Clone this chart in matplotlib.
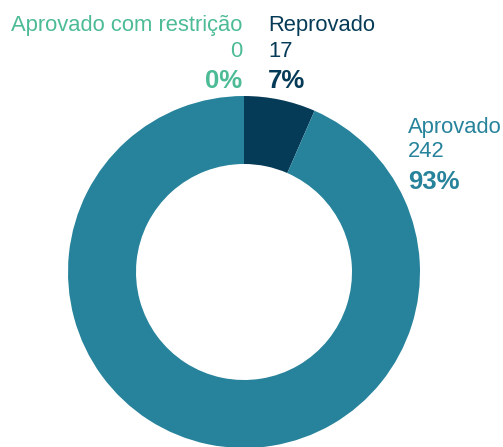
import matplotlib.pyplot as plt

# dados do gráfico
categorias = ["Aprovado com restrição", "Reprovado", "Aprovado"]
quantidades = [0, 17, 242]
cores = ["#4CBB96", "#063B58", "#27839B"]

total = sum(quantidades)
percentuais = [round(q / total * 100) for q in quantidades]

W, H = 503, 447
fig = plt.figure(figsize=(W / 100, H / 100), dpi=100)
ax = fig.add_axes([0, 0, 1, 1])
ax.set_xlim(0, W)
ax.set_ylim(0, H)
ax.set_aspect("equal")
ax.axis("off")

# rosca
ax.pie(quantidades, colors=cores, radius=176, center=(244, H - 272),
       startangle=90, counterclock=False,
       wedgeprops=dict(width=68, linewidth=0))
ax.set_xlim(0, W)
ax.set_ylim(0, H)

plt.rcParams["font.family"] = ["Liberation Sans", "DejaVu Sans"]

# posição dos rótulos (x, alinhamento, baselines em px)
rotulos = [
    (242, "right", (31.5, 57, 88.5)),
    (268, "left", (31.5, 57, 88.5)),
    (408, "left", (133, 157, 189)),
]

for (x, ha, ys), nome, q, p, c in zip(rotulos, categorias, quantidades, percentuais, cores):
    fig.text(x / W, 1 - ys[0] / H, nome, color=c, fontsize=15.8, ha=ha, va="baseline")
    fig.text(x / W, 1 - ys[1] / H, str(q), color=c, fontsize=15.8, ha=ha, va="baseline")
    fig.text(x / W, 1 - ys[2] / H, f"{p}%", color=c, fontsize=18.5, fontweight="bold",
             ha=ha, va="baseline")

fig.savefig("out.png", dpi=100)
